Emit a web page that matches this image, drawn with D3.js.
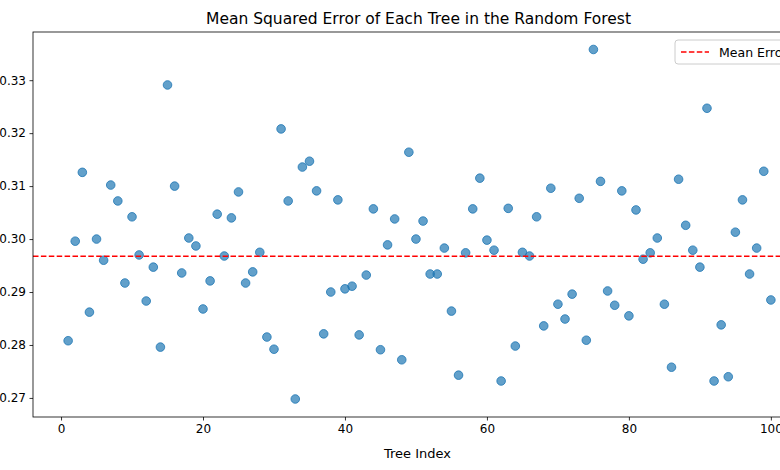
<!DOCTYPE html>
<html>
<head>
<meta charset="utf-8">
<script src="https://cdn.jsdelivr.net/npm/d3@7"></script>
<style>
body { margin: 0; background: #fff; }
text { font-family: "DejaVu Sans", sans-serif; }
</style>
</head>
<body>
<svg id="chart" width="780" height="470"></svg>
<script>
// values, tree index 1..100
var mse = [
	0.2808, 0.2996, 0.3126, 0.2862, 0.3000, 0.2960, 0.3102, 0.3072, 0.2917, 0.3042,
	0.2970, 0.2883, 0.2947, 0.2796, 0.3291, 0.3100, 0.2936, 0.3002, 0.2987, 0.2868,
	0.2921, 0.3047, 0.2968, 0.3040, 0.3089, 0.2917, 0.2938, 0.2975, 0.2815, 0.2792,
	0.3208, 0.3072, 0.2698, 0.3136, 0.3147, 0.3091, 0.2821, 0.2900, 0.3074, 0.2906,
	0.2911, 0.2819, 0.2932, 0.3057, 0.2791, 0.2989, 0.3038, 0.2772, 0.3164, 0.3000,
	0.3034, 0.2934, 0.2934, 0.2983, 0.2864, 0.2743, 0.2974, 0.3057, 0.3115, 0.2998,
	0.2979, 0.2732, 0.3058, 0.2798, 0.2975, 0.2968, 0.3042, 0.2836, 0.3096, 0.2877,
	0.2849, 0.2896, 0.3077, 0.2809, 0.3358, 0.3109, 0.2902, 0.2875, 0.3091, 0.2855,
	0.3055, 0.2962, 0.2974, 0.3002, 0.2877, 0.2758, 0.3113, 0.3026, 0.2979, 0.2947,
	0.3247, 0.2732, 0.2838, 0.2740, 0.3013, 0.3074, 0.2934, 0.2983, 0.3128, 0.2885
];
var xTicks = [0, 20, 40, 60, 80, 100];
var yTicks = [0.27, 0.28, 0.29, 0.30, 0.31, 0.32, 0.33];

var svg = d3.select('#chart');
var pl = 33, pr = 806, pt = 32, pb = 417;

var x = d3.scaleLinear().domain([-3.95, 104.95]).range([pl, pr]);
var y = d3.scaleLinear().domain([0.2664, 0.3391]).range([pb, pt]);
var meanVal = d3.mean(mse);

svg.append('defs').append('clipPath').attr('id', 'clip')
	.append('rect').attr('x', pl).attr('y', pt)
	.attr('width', pr - pl).attr('height', pb - pt);

var plot = svg.append('g').attr('clip-path', 'url(#clip)');

plot.selectAll('circle')
	.data(mse)
  .enter().append('circle')
	.attr('cx', function(d, i){ return x(i + 1); })
	.attr('cy', function(d){ return y(d); })
	.attr('r', 4.3)
	.attr('fill', '#1f77b4')
	.attr('fill-opacity', 0.7)
	.attr('stroke', '#1f77b4')
	.attr('stroke-opacity', 0.8)
	.attr('stroke-width', 1);

plot.append('line')
	.attr('x1', pl).attr('x2', pr)
	.attr('y1', y(meanVal)).attr('y2', y(meanVal))
	.attr('stroke', '#ff0000').attr('stroke-width', 1.5)
	.attr('stroke-dasharray', '5.5,2.4');

// axes
var xAxis = svg.append('g').attr('transform', 'translate(0,' + pb + ')')
	.call(d3.axisBottom(x).tickValues(xTicks).tickSize(3.5).tickPadding(3.5).tickFormat(d3.format('d')));
var yAxis = svg.append('g').attr('transform', 'translate(' + pl + ',0)')
	.call(d3.axisLeft(y).tickValues(yTicks).tickSize(3.5).tickPadding(3.5).tickFormat(d3.format('.2f')));
[xAxis, yAxis].forEach(function(a){
	a.select('.domain').remove();
	a.selectAll('text').attr('font-size', 12).attr('fill', '#000').attr('font-family', 'DejaVu Sans');
	a.selectAll('line').attr('stroke', '#000').attr('stroke-width', 0.8);
});

svg.append('rect')
	.attr('x', pl).attr('y', pt)
	.attr('width', pr - pl).attr('height', pb - pt)
	.attr('fill', 'none').attr('stroke', '#000').attr('stroke-width', 0.8);

// legend (cut off by the window like the reference)
var lg = svg.append('g').attr('transform', 'translate(675,40)');
lg.append('rect').attr('width', 120).attr('height', 24).attr('rx', 3)
	.attr('fill', '#fff').attr('fill-opacity', 0.8).attr('stroke', '#ccc');
lg.append('line').attr('x1', 6).attr('x2', 34).attr('y1', 12).attr('y2', 12)
	.attr('stroke', '#ff0000').attr('stroke-width', 1.5).attr('stroke-dasharray', '5.5,2.4');
lg.append('text').attr('x', 44).attr('y', 16.5).attr('font-size', 12.5).text('Mean Error');

svg.append('text').attr('x', (pl + pr) / 2 - 1).attr('y', 24)
	.attr('text-anchor', 'middle').attr('font-size', 15.5)
	.text('Mean Squared Error of Each Tree in the Random Forest');
svg.append('text').attr('x', (pl + pr) / 2 - 2).attr('y', 458)
	.attr('text-anchor', 'middle').attr('font-size', 13)
	.text('Tree Index');
</script>
</body>
</html>
